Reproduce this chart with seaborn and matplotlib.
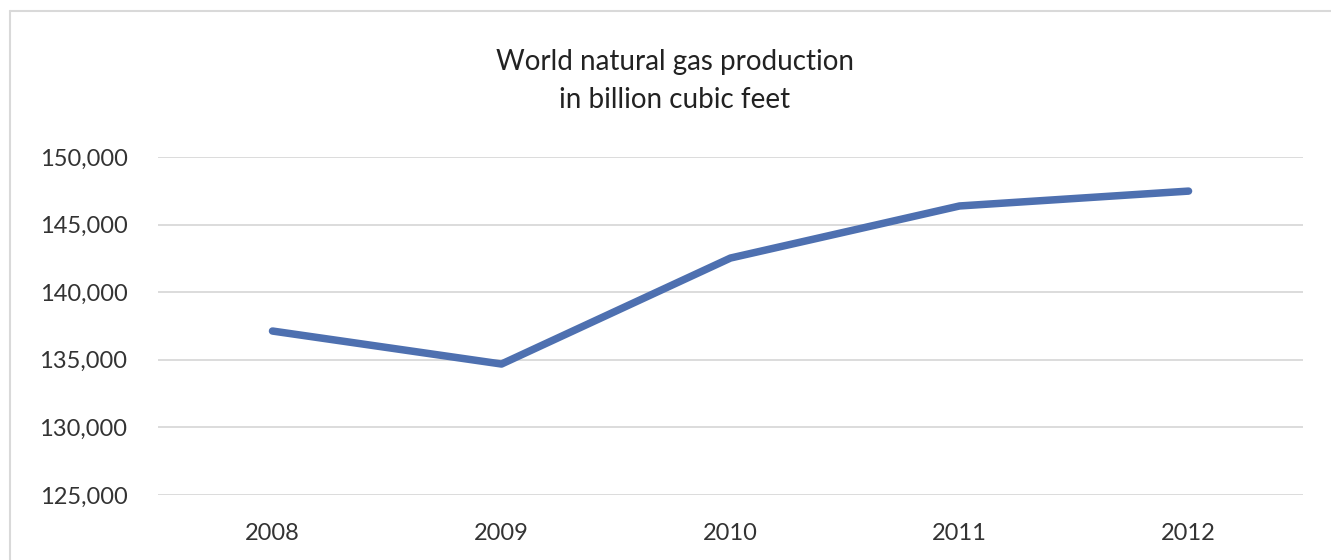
import pandas as pd
import seaborn as sns
import matplotlib.pyplot as plt
from matplotlib.lines import Line2D
from matplotlib.ticker import FuncFormatter

# values
years = ["2008", "2009", "2010", "2011", "2012"]
production = [137130, 134690, 142530, 146380, 147480]
y_ticks = [125000, 130000, 135000, 140000, 145000, 150000]

df = pd.DataFrame({"year": years, "production": production})

sns.set_theme(style="white")
plt.rcParams["font.family"] = ["Lato", "DejaVu Sans"]

fig = plt.figure(figsize=(13.31, 5.6), dpi=100)
ax = fig.add_axes([0.1187, 0.116, 0.8603, 0.6036])

sns.lineplot(data=df, x="year", y="production", ax=ax, color="#4E70B0",
             linewidth=5.4, solid_capstyle="round", solid_joinstyle="round")

ax.set_xlim(-0.5, len(years) - 0.5)
ax.set_ylim(y_ticks[0], y_ticks[-1])
ax.set_yticks(y_ticks)
ax.yaxis.set_major_formatter(FuncFormatter(lambda v, p: f"{int(v):,}"))
ax.grid(axis="y", color="#D9D9D9", linewidth=1.3)
ax.grid(axis="x", visible=False)
ax.set_axisbelow(True)
for s in ax.spines.values():
    s.set_visible(False)
ax.tick_params(axis="both", length=0, labelsize=17, colors="#333333")
ax.tick_params(axis="y", pad=22)
ax.tick_params(axis="x", pad=20)
ax.set_xlabel("")
ax.set_ylabel("")

fig.text(0.507, 1 - 81 / 560, "World natural gas production\nin billion cubic feet",
         ha="center", va="center", fontsize=20, color="#222222", linespacing=1.55)

# chart frame (right and bottom edges fall outside the crop)
fig.add_artist(Line2D([10 / 1331, 1], [1 - 11 / 560, 1 - 11 / 560],
                      transform=fig.transFigure, color="#D9D9D9", linewidth=1.5))
fig.add_artist(Line2D([10 / 1331, 10 / 1331], [0, 1 - 11 / 560],
                      transform=fig.transFigure, color="#D9D9D9", linewidth=1.5))

fig.savefig("out.png", dpi=100, facecolor="white")
